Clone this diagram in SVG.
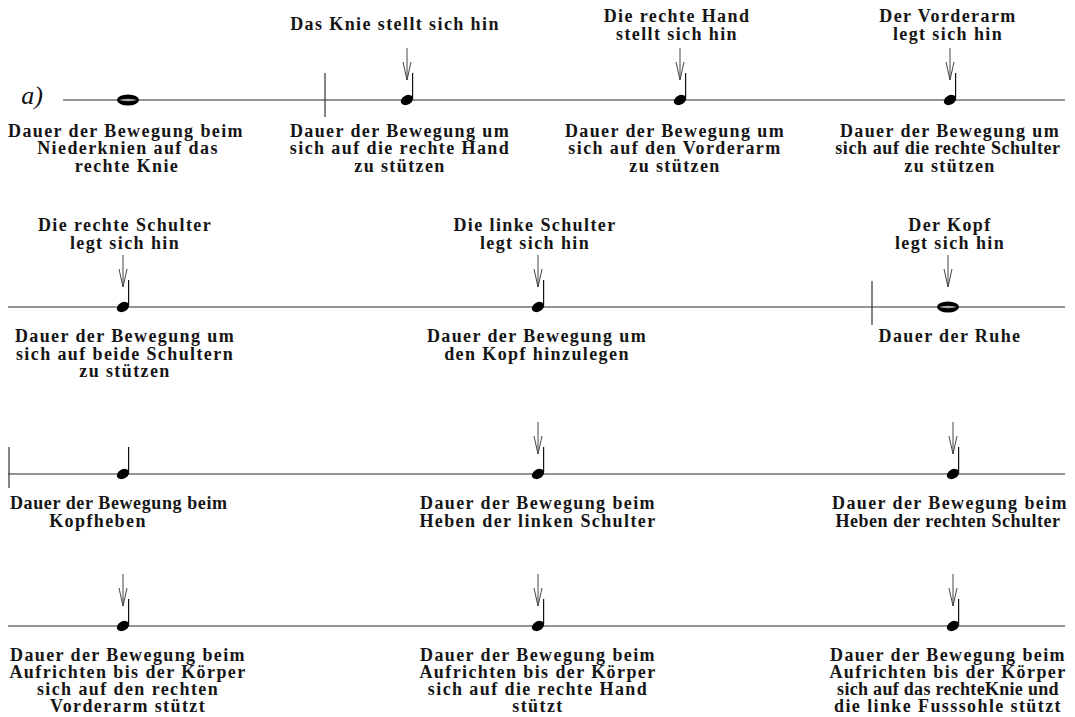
<svg xmlns="http://www.w3.org/2000/svg" xmlns:xlink="http://www.w3.org/1999/xlink" width="1075" height="717" viewBox="0 0 1075 717">
<style>
.t{font-family:"Liberation Serif",serif;font-size:18px;font-weight:bold;letter-spacing:1.4px;text-anchor:middle;fill:#151515}
.staff{stroke:#2a2a2a;stroke-width:1.2;fill:none}
.bar{stroke:#333;stroke-width:1.2}
.arr{stroke:#444;stroke-width:1;fill:none}
</style>
<defs>
<g id="qn">
<ellipse cx="0" cy="0" rx="6.5" ry="4.6" transform="rotate(-30)" fill="#000"/>
<line x1="5.6" y1="-1.5" x2="5.6" y2="-27" stroke="#111" stroke-width="1.2"/>
</g>
<g id="wn">
<ellipse cx="0" cy="0" rx="11" ry="5.5" fill="#000"/>
<ellipse cx="0" cy="0" rx="8" ry="1.2" fill="#aaa"/>
</g>
<g id="ar">
<line x1="0" y1="-52" x2="0" y2="-20"/>
<polyline points="-4,-38 0,-20 4,-38"/>
</g>
</defs>
<rect width="1075" height="717" fill="#fff"/>

<g id="connectors">
<line class="staff" x1="63" y1="100" x2="1065" y2="100"/>
<line class="staff" x1="8" y1="307" x2="1065" y2="307"/>
<line class="staff" x1="8" y1="474" x2="1065" y2="474"/>
<line class="staff" x1="8" y1="626" x2="1065" y2="626"/>
<line class="bar" x1="325" y1="73" x2="325" y2="117"/>
<line class="bar" x1="872" y1="281" x2="872" y2="325"/>
<line class="bar" x1="9" y1="447" x2="9" y2="488"/>
<g class="arr">
<use xlink:href="#ar" x="407" y="100"/>
<use xlink:href="#ar" x="680" y="100"/>
<use xlink:href="#ar" x="950" y="100"/>
<use xlink:href="#ar" x="123" y="307"/>
<use xlink:href="#ar" x="538" y="307"/>
<use xlink:href="#ar" x="948" y="307"/>
<use xlink:href="#ar" x="538" y="474"/>
<use xlink:href="#ar" x="953" y="474"/>
<use xlink:href="#ar" x="123" y="626"/>
<use xlink:href="#ar" x="538" y="626"/>
<use xlink:href="#ar" x="953" y="626"/>
</g>
</g>

<text x="32" y="104" style="font-family:'Liberation Serif',serif;font-style:italic;font-size:26px;text-anchor:middle;fill:#111">a)</text>

<g id="row1-n1"><use xlink:href="#wn" x="128" y="100"/>
<text class="t" x="126" y="137">Dauer der Bewegung beim</text>
<text class="t" x="128" y="154">Niederknien auf das</text>
<text class="t" x="127" y="172">rechte Knie</text></g>

<g id="row1-n2"><use xlink:href="#qn" x="407" y="100"/>
<text class="t" x="395" y="30">Das Knie stellt sich hin</text>
<text class="t" x="400" y="137">Dauer der Bewegung um</text>
<text class="t" x="400" y="154">sich auf die rechte Hand</text>
<text class="t" x="400" y="172">zu stützen</text></g>

<g id="row1-n3"><use xlink:href="#qn" x="680" y="100"/>
<text class="t" x="677" y="22">Die rechte Hand</text>
<text class="t" x="677" y="40">stellt sich hin</text>
<text class="t" x="675" y="137">Dauer der Bewegung um</text>
<text class="t" x="675" y="154">sich auf den Vorderarm</text>
<text class="t" x="675" y="172">zu stützen</text></g>

<g id="row1-n4"><use xlink:href="#qn" x="950" y="100"/>
<text class="t" x="948" y="22">Der Vorderarm</text>
<text class="t" x="948" y="40">legt sich hin</text>
<text class="t" x="950" y="137">Dauer der Bewegung um</text>
<text class="t" x="948" y="154" style="letter-spacing:0.6px">sich auf die rechte Schulter</text>
<text class="t" x="950" y="172">zu stützen</text></g>

<g id="row2-n1"><use xlink:href="#qn" x="123" y="307"/>
<text class="t" x="125" y="231">Die rechte Schulter</text>
<text class="t" x="125" y="249">legt sich hin</text>
<text class="t" x="125" y="342">Dauer der Bewegung um</text>
<text class="t" x="125" y="360">sich auf beide Schultern</text>
<text class="t" x="125" y="377">zu stützen</text></g>

<g id="row2-n2"><use xlink:href="#qn" x="538" y="307"/>
<text class="t" x="535" y="231">Die linke Schulter</text>
<text class="t" x="535" y="249">legt sich hin</text>
<text class="t" x="537" y="342">Dauer der Bewegung um</text>
<text class="t" x="537" y="360">den Kopf hinzulegen</text></g>

<g id="row2-n3"><use xlink:href="#wn" x="948" y="307"/>
<text class="t" x="950" y="231">Der Kopf</text>
<text class="t" x="950" y="249">legt sich hin</text>
<text class="t" x="950" y="342">Dauer der Ruhe</text></g>

<g id="row3-n1"><use xlink:href="#qn" x="123" y="474"/>
<text class="t" x="10" y="509" style="text-anchor:start;letter-spacing:0.6px">Dauer der Bewegung beim</text>
<text class="t" x="98" y="527">Kopfheben</text></g>

<g id="row3-n2"><use xlink:href="#qn" x="538" y="474"/>
<text class="t" x="538" y="509">Dauer der Bewegung beim</text>
<text class="t" x="538" y="527">Heben der linken Schulter</text></g>

<g id="row3-n3"><use xlink:href="#qn" x="953" y="474"/>
<text class="t" x="950" y="509">Dauer der Bewegung beim</text>
<text class="t" x="948" y="527" style="letter-spacing:0.5px">Heben der rechten Schulter</text></g>

<g id="row4-n1"><use xlink:href="#qn" x="123" y="626"/>
<text class="t" x="128" y="661">Dauer der Bewegung beim</text>
<text class="t" x="128" y="678">Aufrichten bis der Körper</text>
<text class="t" x="128" y="695">sich auf den rechten</text>
<text class="t" x="128" y="712">Vorderarm stützt</text></g>

<g id="row4-n2"><use xlink:href="#qn" x="538" y="626"/>
<text class="t" x="538" y="661">Dauer der Bewegung beim</text>
<text class="t" x="538" y="678">Aufrichten bis der Körper</text>
<text class="t" x="538" y="695">sich auf die rechte Hand</text>
<text class="t" x="538" y="712">stützt</text></g>

<g id="row4-n3"><use xlink:href="#qn" x="953" y="626"/>
<text class="t" x="948" y="661">Dauer der Bewegung beim</text>
<text class="t" x="948" y="678">Aufrichten bis der Körper</text>
<text class="t" x="948" y="695" style="letter-spacing:0.3px">sich auf das rechteKnie und</text>
<text class="t" x="948" y="712">die linke Fusssohle stützt</text></g>
</svg>
